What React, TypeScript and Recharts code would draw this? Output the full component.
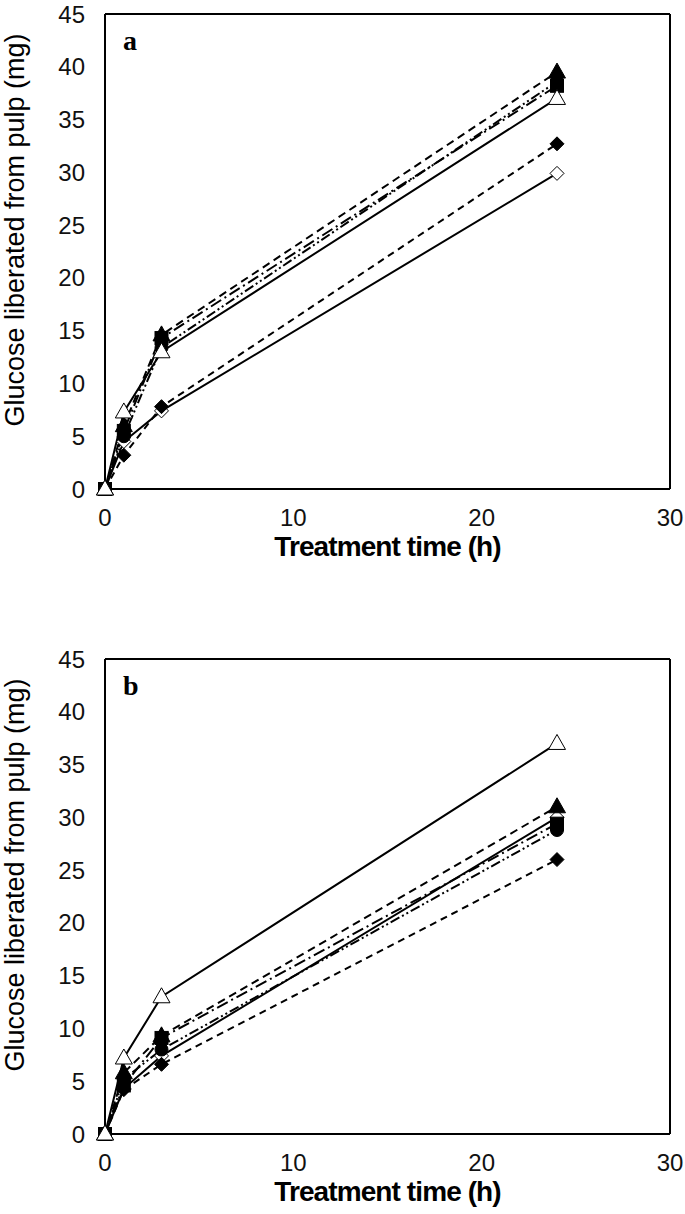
import React from "react"
import { LineChart, Line, XAxis, YAxis, Label, ReferenceLine } from "recharts"

// treatment times (h)
const HOURS = [0, 1, 3, 24]
const X_TICKS = [0, 10, 20, 30]
const Y_TICKS = [0, 5, 10, 15, 20, 25, 30, 35, 40, 45]

// panel a
const A_OPEN_DIAMOND = [0, 4.5, 7.4, 29.9]
const A_FILLED_DIAMOND = [0, 3.2, 7.8, 32.7]
const A_FILLED_SQUARE = [0, 5.5, 14.3, 38.2]
const A_FILLED_CIRCLE = [0, 5.0, 13.4, 38.6]
const A_FILLED_TRIANGLE = [0, 6.0, 14.6, 39.5]
const A_OPEN_TRIANGLE = [0, 7.3, 13.0, 37.0]

// panel b
const B_OPEN_DIAMOND = [0, 4.3, 7.4, 30.0]
const B_FILLED_DIAMOND = [0, 4.2, 6.6, 26.0]
const B_FILLED_SQUARE = [0, 4.6, 9.1, 29.4]
const B_FILLED_CIRCLE = [0, 5.2, 8.0, 28.8]
const B_FILLED_TRIANGLE = [0, 5.8, 9.3, 31.0]
const B_OPEN_TRIANGLE = [0, 7.2, 13.0, 37.0]

type Shape = "diamond" | "square" | "circle" | "triangle"

const marker = (shape: Shape, filled: boolean) => (props: any) => {
  const { cx, cy, index } = props
  const fill = filled ? "#000" : "#fff"
  const key = `${shape}-${filled}-${index}`
  if (cx == null || cy == null) return <g key={key} />
  if (shape === "diamond")
    return <polygon key={key} points={`${cx},${cy - 7} ${cx + 7},${cy} ${cx},${cy + 7} ${cx - 7},${cy}`} fill={fill} stroke="#000" strokeWidth={1} />
  if (shape === "square")
    return <rect key={key} x={cx - 6.5} y={cy - 6.5} width={13} height={13} fill={fill} stroke="#000" strokeWidth={1} />
  if (shape === "circle")
    return <circle key={key} cx={cx} cy={cy} r={6.5} fill={fill} stroke="#000" strokeWidth={1} />
  return <polygon key={key} points={`${cx},${cy - 9} ${cx + 8.5},${cy + 6} ${cx - 8.5},${cy + 6}`} fill={fill} stroke="#000" strokeWidth={1} />
}

const build = (od: number[], fd: number[], fs: number[], fc: number[], ft: number[], ot: number[]) =>
  HOURS.map((t, i) => ({ t, od: od[i], fd: fd[i], fs: fs[i], fc: fc[i], ft: ft[i], ot: ot[i] }))

const dataA = build(A_OPEN_DIAMOND, A_FILLED_DIAMOND, A_FILLED_SQUARE, A_FILLED_CIRCLE, A_FILLED_TRIANGLE, A_OPEN_TRIANGLE)
const dataB = build(B_OPEN_DIAMOND, B_FILLED_DIAMOND, B_FILLED_SQUARE, B_FILLED_CIRCLE, B_FILLED_TRIANGLE, B_OPEN_TRIANGLE)

const series: { key: string; shape: Shape; filled: boolean; dash?: string }[] = [
  { key: "od", shape: "diamond", filled: false },
  { key: "fd", shape: "diamond", filled: true, dash: "7 5" },
  { key: "fc", shape: "circle", filled: true, dash: "10 3 2 3 2 3" },
  { key: "fs", shape: "square", filled: true, dash: "12 4 2 4" },
  { key: "ft", shape: "triangle", filled: true, dash: "8 5" },
  { key: "ot", shape: "triangle", filled: false },
]

const SANS = "Liberation Sans, Arial, sans-serif"
const tickStyle = { fill: "#111", fontSize: 24, fontFamily: SANS }

function Panel({ data, letter }: { data: any[]; letter: string }) {
  return (
    <LineChart width={685} height={600} data={data} margin={{ top: 14, right: 15, bottom: 41, left: 45 }}>
      <XAxis
        type="number"
        dataKey="t"
        domain={[0, 30]}
        ticks={X_TICKS}
        tickLine={false}
        tickSize={0}
        tickMargin={20}
        height={70}
        tick={tickStyle}
        axisLine={{ stroke: "#000", strokeWidth: 2 }}
      >
        <Label
          value="Treatment time (h)"
          position="insideTop"
          offset={47}
          style={{ fill: "#000", fontSize: 28, fontWeight: "bold", letterSpacing: -0.9, fontFamily: SANS }}
        />
      </XAxis>
      <YAxis
        type="number"
        domain={[0, 45]}
        ticks={Y_TICKS}
        width={60}
        tickLine={false}
        tickSize={0}
        tickMargin={20}
        tick={tickStyle}
        axisLine={{ stroke: "#000", strokeWidth: 2 }}
        label={{
          content: () => (
            <g>
              <text
                x={15}
                y={230}
                transform="rotate(-90 15 230)"
                textAnchor="middle"
                dominantBaseline="central"
                fontSize={27}
                fontFamily={SANS}
                fill="#000"
              >
                Glucose liberated from pulp (mg)
              </text>
              <text x={123} y={50} fontSize={28} fontWeight="bold" fontFamily="Liberation Serif, Times New Roman, serif" fill="#000">
                {letter}
              </text>
            </g>
          ),
        }}
      />
      <ReferenceLine y={45} stroke="#000" strokeWidth={2} />
      <ReferenceLine x={30} stroke="#000" strokeWidth={2} />
      {series.map((s) => (
        <Line
          key={s.key}
          dataKey={s.key}
          type="linear"
          stroke="#000"
          strokeWidth={2}
          strokeDasharray={s.dash}
          dot={marker(s.shape, s.filled)}
          activeDot={false}
          isAnimationActive={false}
        />
      ))}
    </LineChart>
  )
}

export default function App() {
  return (
    <div style={{ position: "absolute", left: 0, top: 0, width: 685, height: 1214, background: "#fff", overflow: "hidden" }}>
      <div style={{ position: "absolute", left: 0, top: 0 }}>
        <Panel data={dataA} letter="a" />
      </div>
      <div style={{ position: "absolute", left: 0, top: 645 }}>
        <Panel data={dataB} letter="b" />
      </div>
    </div>
  )
}
